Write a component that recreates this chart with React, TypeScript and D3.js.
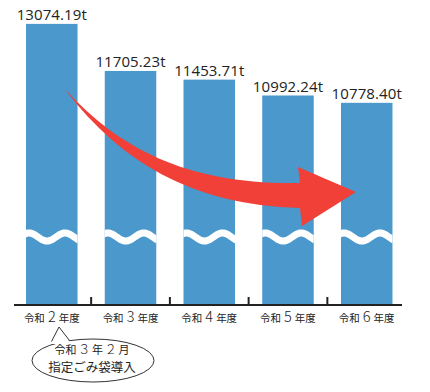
import React from "react";
import * as d3 from "d3";

const categories = ["2", "3", "4", "5", "6"];
const values = [13074.19, 11705.23, 11453.71, 10992.24, 10778.4];
const valueLabels = ["13074.19t", "11705.23t", "11453.71t", "10992.24t", "10778.40t"];
const calloutLine1 = [
  { t: "令和", big: false },
  { t: "３", big: true },
  { t: "年", big: false },
  { t: "２", big: true },
  { t: "月", big: false },
];
const calloutLine2 = "指定ごみ袋導入";

const W = 430;
const H = 392;
const BLUE = "#4b98cc";
const RED = "#f04038";
const JP = "'Noto Sans CJK JP', 'Noto Sans', sans-serif";
const NUM = "'Open Sans', 'Noto Sans', sans-serif";

export default function App() {
  const x = d3
    .scaleBand<string>()
    .domain(categories)
    .range([12.4, 406.1])
    .paddingInner(0.346)
    .paddingOuter(0.173);
  const y = d3.scaleLinear().domain([4900, 13100]).range([305, 23]);
  const baseY = 304.5;
  const bw = x.bandwidth();
  const step = x.step();

  const wavePath = (left: number) => {
    const pts: [number, number][] = [];
    for (let xx = left - 2; xx <= left + bw + 2; xx += 1) {
      pts.push([xx, 237 - 4 * Math.cos((2 * Math.PI * (xx - left - 3)) / 36)]);
    }
    return d3.line()(pts) as string;
  };

  const arrowPath =
    "M66,90 C120,150 190,185 300,183 L298,167 L356,192 L302,226 L300,208 C190,205 120,160 67,92 Z";

  const ticks = categories.slice(1).map((c) => (x(c) as number) - (step - bw) / 2);

  return (
    <svg
      width={W}
      height={H}
      style={{ position: "absolute", left: 0, top: 0, background: "#fff" }}
    >
      <defs>
        {categories.map((c, i) => {
          const left = x(c) as number;
          const top = y(values[i]);
          return (
            <clipPath key={c} id={`clip${i}`}>
              <rect x={left} y={top} width={bw} height={baseY - top} />
            </clipPath>
          );
        })}
      </defs>
      {categories.map((c, i) => {
        const left = x(c) as number;
        const top = y(values[i]);
        return (
          <g key={c}>
            <rect x={left} y={top} width={bw} height={baseY - top} fill={BLUE} />
            <path
              d={wavePath(left)}
              fill="none"
              stroke="#fff"
              strokeWidth={7}
              clipPath={`url(#clip${i})`}
            />
            <text
              x={left + bw / 2}
              y={top - 3.5}
              textAnchor="middle"
              fontFamily={NUM}
              fontSize={15}
              letterSpacing={0.1}
              fill="#222"
            >
              {valueLabels[i]}
            </text>
            <text
              x={left + bw / 2}
              y={322}
              textAnchor="middle"
              fontFamily={JP}
              fill="#222"
            >
              <tspan fontSize={10.5}>令和</tspan>
              <tspan fontSize={14.5} fontWeight={300} dx={3}>
                {categories[i]}
              </tspan>
              <tspan fontSize={10.5} dx={3}>
                年度
              </tspan>
            </text>
          </g>
        );
      })}
      <path d={arrowPath} fill={RED} />
      <line x1={14} x2={402} y1={305} y2={305} stroke="#222" strokeWidth={2} />
      {ticks.map((t, i) => (
        <line key={i} x1={t} x2={t} y1={297} y2={305} stroke="#222" strokeWidth={2} />
      ))}
      <ellipse cx={93} cy={360.5} rx={61} ry={21.5} fill="#fff" stroke="#333" strokeWidth={1} />
      <polygon points="50,344 59,327 71,344" fill="#fff" />
      <polyline points="51.5,341.5 59,327 69.5,340.5" fill="none" stroke="#333" strokeWidth={1} />
      <text x={92} y={353.5} textAnchor="middle" fontFamily={JP} fill="#222">
        {calloutLine1.map((p, i) => (
          <tspan
            key={i}
            fontSize={p.big ? 12.5 : 11}
            fontWeight={p.big ? 300 : 400}
            dx={i === 0 ? 0 : 1.5}
          >
            {p.t}
          </tspan>
        ))}
      </text>
      <text x={92} y={371.5} textAnchor="middle" fontFamily={JP} fontSize={12.5} fill="#222">
        {calloutLine2}
      </text>
    </svg>
  );
}
